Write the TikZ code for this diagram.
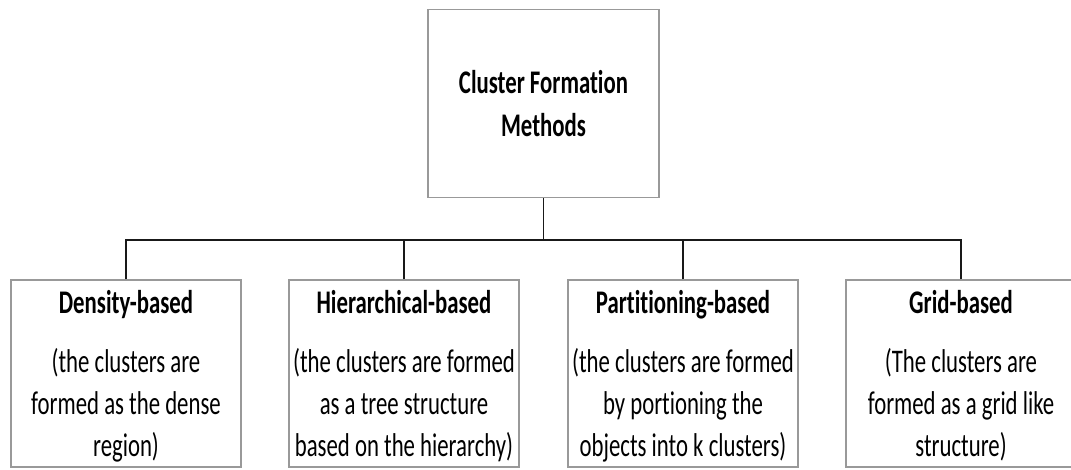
\documentclass[tikz,border=0pt]{standalone}
\usepackage{fontspec}
\setmainfont[FakeStretch=0.69,Ligatures=NoCommon]{Carlito}
% centred stack of lines whose baseline is the first line's baseline
\newcommand{\linestack}[1]{\begin{tabular}[t]{@{}c@{}}#1\end{tabular}}
\begin{document}
\begin{tikzpicture}[x=1pt,y=-1pt,
  box/.style={draw=black!40, line width=1.2pt, minimum width=230pt, minimum height=188pt, inner sep=0pt},
  txt/.style={inner sep=0pt, anchor=base, font=\fontsize{33}{42}\selectfont},
  link/.style={draw=black!90, line width=1.8pt}]
\useasboundingbox (0,0) rectangle (1071,469);
\begin{scope}
\clip (0,0) rectangle (1071,469);
% root box
\node[box, minimum width=231pt] (root) at (543.5,103.5) {};
\node[txt] (roottxt) at (543.5,93) {\bfseries\linestack{Cluster Formation\\[1pt]Methods}};
% method boxes
\node[box, minimum height=187pt] (density) at (126,373.5) {};
\node[box, minimum height=187pt] (hier) at (404,373.5) {};
\node[box, minimum height=187pt] (part) at (683,373.5) {};
\node[box, minimum height=187pt] (grid) at (961,373.5) {};
\node[txt] (densitytxt) at (126,313) {\linestack{\bfseries Density-based\\[17pt]
  (the clusters are\\formed as the dense\\region)}};
\node[txt] (hiertxt) at (404,313) {\linestack{\bfseries Hierarchical-based\\[17pt]
  (the clusters are formed\\as a tree structure\\based on the hierarchy)}};
\node[txt] (parttxt) at (683,313) {\linestack{\bfseries Partitioning-based\\[17pt]
  (the clusters are formed\\by portioning the\\objects into k clusters)}};
\node[txt] (gridtxt) at (961,313) {\linestack{\bfseries Grid-based\\[17pt]
  (The clusters are\\formed as a grid like\\structure)}};
% bus connecting the root to the four methods
\coordinate (bus) at (543.5,240);
\draw[link] (root.south) -- (bus);
\draw[link] (density.north) |- (bus);
\draw[link] (grid.north) |- (bus);
\draw[link] (hier.north) -- (hier.north |- bus);
\draw[link] (part.north) -- (part.north |- bus);
\end{scope}
\end{tikzpicture}
\end{document}
